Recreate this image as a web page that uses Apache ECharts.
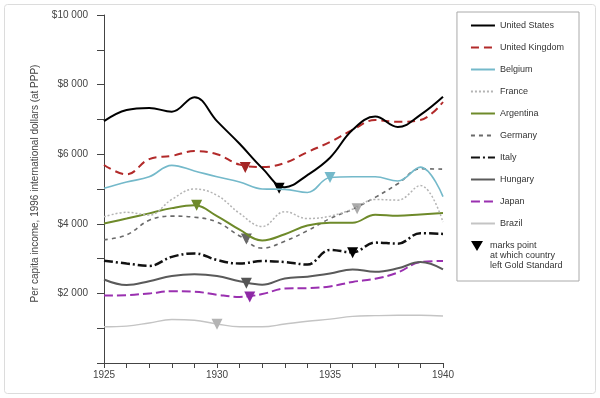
<!DOCTYPE html>
<html>
<head>
<meta charset="utf-8">
<script src="https://cdn.jsdelivr.net/npm/echarts@6/dist/echarts.min.js"></script>
<style>
  html, body { margin: 0; padding: 0; background: #fff; }
  #main { width: 600px; height: 398px; }
</style>
</head>
<body>
<div id="main"></div>
<script>
var years = [1925, 1926, 1927, 1928, 1929, 1930, 1931, 1932, 1933, 1934, 1935, 1936, 1937, 1938, 1939, 1940];

var countries = ['United States', 'United Kingdom', 'Belgium', 'France', 'Argentina',
                 'Germany', 'Italy', 'Hungary', 'Japan', 'Brazil'];

var unitedStates  = [6950, 7270, 7330, 7220, 7640, 6950, 6300, 5600, 5050, 5400, 5900, 6700, 7080, 6780, 7130, 7650];
var unitedKingdom = [5690, 5420, 5860, 5950, 6090, 6000, 5700, 5630, 5750, 6060, 6350, 6700, 6980, 6930, 6980, 7500];
var belgium       = [5020, 5200, 5350, 5680, 5520, 5350, 5200, 5000, 4990, 4900, 5330, 5350, 5350, 5230, 5630, 4780];
var france        = [4200, 4330, 4250, 4700, 5000, 4820, 4300, 3920, 4350, 4150, 4220, 4420, 4700, 4680, 5100, 4050];
var argentina     = [4010, 4150, 4300, 4450, 4530, 4220, 3830, 3520, 3700, 3950, 4030, 4030, 4260, 4230, 4270, 4310];
var germany       = [3540, 3680, 4100, 4220, 4190, 4050, 3650, 3300, 3500, 3800, 4150, 4420, 4760, 5150, 5580, 5570];
var italy         = [2940, 2860, 2790, 3050, 3150, 2960, 2860, 2930, 2900, 2830, 3250, 3180, 3460, 3430, 3730, 3710];
var hungary       = [2400, 2240, 2350, 2500, 2550, 2500, 2350, 2250, 2430, 2480, 2570, 2690, 2620, 2720, 2900, 2690];
var japan         = [1940, 1950, 2000, 2060, 2050, 1960, 1900, 1980, 2140, 2150, 2200, 2330, 2420, 2600, 2900, 2930];
var brazil        = [1040, 1060, 1150, 1250, 1230, 1120, 1040, 1040, 1120, 1200, 1260, 1340, 1360, 1370, 1370, 1350];

// year (fractional) and value where each country left the gold standard
var goldYears  = [1932.75, 1931.25, 1935, 1936.2, 1929.1, 1931.3, 1936, 1931.3, 1931.45, 1930];
var goldValues = [5020, 5620, 5330, 4430, 4530, 3560, 3170, 2290, 1900, 1110];

var allValues = [unitedStates, unitedKingdom, belgium, france, argentina,
                 germany, italy, hungary, japan, brazil];

// line looks
var lineColors  = ['#000000', '#b22a2a', '#74b9ca', '#b4b4b4', '#6e8a2a', '#6a6a6a', '#111111', '#5a5a5a', '#9a30b0', '#c4c4c4'];
var markColors  = ['#000000', '#a32525', '#74b9ca', '#aaaaaa', '#6e8a2a', '#666666', '#000000', '#555555', '#8e2aa6', '#b4b4b4'];
var lineTypes   = ['solid', [8, 5], 'solid', [2, 2], 'solid', [4, 4], [9, 3, 2, 3], 'solid', [9, 4], 'solid'];
var lineWidths  = [2, 2, 1.6, 1.5, 2, 1.6, 2.5, 2, 2, 1.4];

function fmtMoney(v) {
    return '$' + String(v).replace(/\B(?=(\d{3})+(?!\d))/g, ' ');
}

var series = countries.map(function (name, i) {
    return {
        name: name,
        type: 'line',
        smooth: 0.4,
        symbol: 'none',
        data: years.map(function (y, j) { return [y, allValues[i][j]]; }),
        lineStyle: { color: lineColors[i], width: lineWidths[i], type: lineTypes[i] },
        itemStyle: { color: lineColors[i] },
        markPoint: {
            symbol: 'triangle',
            symbolRotate: 180,
            symbolSize: 11,
            silent: true,
            label: { show: false },
            itemStyle: { color: markColors[i] },
            data: [{ coord: [goldYears[i], goldValues[i]] }]
        },
        z: 10 - i
    };
});

var myChart = echarts.init(document.getElementById('main'), null, { renderer: 'canvas' });

var option = {
    animation: false,
    textStyle: { fontFamily: 'Liberation Sans, Arial, sans-serif' },
    grid: { left: 104, right: 157, top: 15, bottom: 35 },
    xAxis: {
        type: 'value',
        min: 1925,
        max: 1940,
        interval: 1,
        axisLine: { lineStyle: { color: '#444' } },
        axisTick: { length: 5, lineStyle: { color: '#444' } },
        splitLine: { show: false },
        axisLabel: {
            color: '#444',
            fontSize: 10,
            margin: 7,
            formatter: function (v) { return v % 5 === 0 ? String(v) : ''; }
        }
    },
    yAxis: {
        type: 'value',
        min: 0,
        max: 10000,
        interval: 1000,
        name: 'Per capita income, 1996 international dollars (at PPP)',
        nameLocation: 'middle',
        nameGap: 64,
        nameTextStyle: { color: '#444', fontSize: 10, padding: [0, 0, 0, 11] },
        axisLine: { show: true, lineStyle: { color: '#444' } },
        axisTick: { show: true, length: 7, lineStyle: { color: '#444' } },
        splitLine: { show: false },
        axisLabel: {
            color: '#444',
            fontSize: 10,
            margin: 16,
            formatter: function (v) { return (v > 0 && v % 2000 === 0) ? fmtMoney(v) : ''; }
        }
    },
    legend: {
        orient: 'vertical',
        right: 21,
        top: 12,
        data: countries,
        itemWidth: 24,
        itemHeight: 9,
        itemGap: 13,
        padding: [9, 15, 53, 13],
        borderColor: '#aaa',
        borderWidth: 1,
        selectedMode: false,
        itemStyle: { opacity: 0 },
        textStyle: { color: '#333', fontSize: 9 }
    },
    graphic: [
        {
            type: 'rect',
            silent: true,
            shape: { x: 4.5, y: 4.5, width: 591, height: 389, r: 3 },
            style: { fill: 'none', stroke: '#dcdcdc', lineWidth: 1 }
        },
        {
            type: 'polygon',
            silent: true,
            shape: { points: [[471, 241], [483, 241], [477, 251]] },
            style: { fill: '#000' }
        },
        {
            type: 'text',
            silent: true,
            x: 490,
            y: 241,
            style: {
                text: 'marks point\nat which country\nleft Gold Standard',
                font: '9px Liberation Sans, Arial, sans-serif',
                lineHeight: 10,
                fill: '#333'
            }
        }
    ],
    series: series
};

myChart.setOption(option);
window.addEventListener('resize', myChart.resize);
</script>
</body>
</html>
